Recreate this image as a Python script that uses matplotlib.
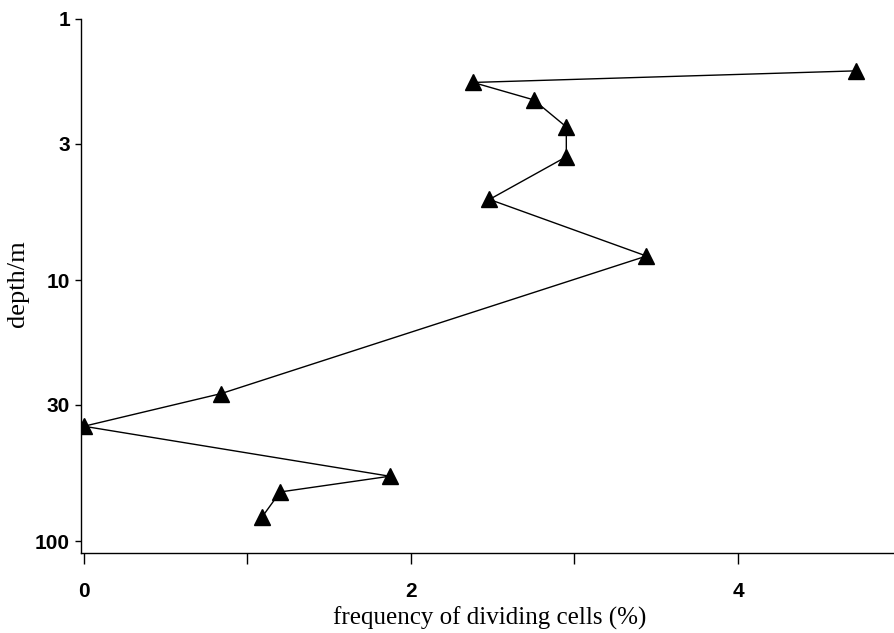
import matplotlib
matplotlib.use("Agg")
import matplotlib.pyplot as plt

# values (frequency in %, depth in m)
freq = [4.72, 2.38, 2.75, 2.95, 2.95, 2.48, 3.44, 0.84, 0.0, 1.87, 1.20, 1.09]
depth = [1.58, 1.75, 2.04, 2.59, 3.37, 4.91, 8.09, 27.2, 36.3, 56.4, 64.8, 80.7]

yticks = [1, 3, 10, 30, 100]
ytick_labels = ["1", "3", "10", "30", "100"]
xticks = [0, 1, 2, 3, 4]
xtick_labels = ["0", "", "2", "", "4"]

fig = plt.figure(figsize=(8.94, 6.33), dpi=100)
ax = fig.add_axes([81 / 894, 80 / 633, 813 / 894, 534 / 633])

ax.plot(freq, depth, color="black", linewidth=1.0, marker="^",
        markersize=11, markerfacecolor="black", markeredgecolor="black")

ax.set_yscale("log")
ax.set_ylim(111, 1.0)
ax.set_xlim(-0.018, 4.954)

ax.set_yticks(yticks)
ax.set_yticklabels(ytick_labels)
ax.yaxis.set_minor_locator(matplotlib.ticker.NullLocator())
ax.set_xticks(xticks)
ax.set_xticklabels(xtick_labels)

for lab in ax.get_xticklabels() + ax.get_yticklabels():
    lab.set_fontfamily("Liberation Sans")
    lab.set_fontweight("bold")
    lab.set_fontsize(15)

ax.tick_params(axis="y", direction="out", length=4, width=1, pad=4)
ax.tick_params(axis="x", direction="out", length=8, width=1, pad=13)

ax.spines["top"].set_visible(False)
ax.spines["right"].set_visible(False)
ax.spines["left"].set_linewidth(1.0)
ax.spines["bottom"].set_linewidth(1.0)

# axis titles in a serif face, placed as in the reference
fig.text(490 / 894, 1 - 618 / 633, "frequency of dividing cells (%)",
         family="Liberation Serif", fontsize=18, ha="center", va="center")
fig.text(18 / 894, 1 - 284 / 633, "depth/m", family="Liberation Serif",
         fontsize=19, rotation=90, ha="center", va="center")

fig.savefig("out.png", dpi=100)
